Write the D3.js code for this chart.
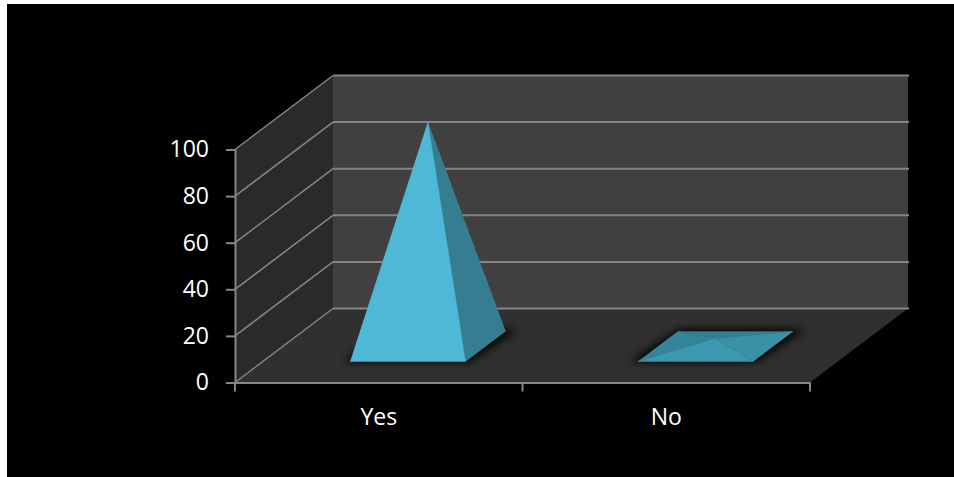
<!DOCTYPE html>
<html>
<head>
<meta charset="utf-8">
<script src="https://d3js.org/d3.v7.min.js"></script>
<style>
  html, body { margin: 0; padding: 0; background: #fff; }
  svg { display: block; }
</style>
</head>
<body>
<script>
var categories = ["Yes", "No"];
var values = [96, 3.5];
var valueTicks = [0, 20, 40, 60, 80, 100];

var width = 954, height = 477;

var svg = d3.select("body").append("svg")
    .attr("width", width)
    .attr("height", height);

svg.append("rect")
    .attr("x", 7).attr("y", 4)
    .attr("width", width - 7).attr("height", height - 4)
    .attr("fill", "#000");

var y = d3.scaleLinear().domain([0, 100]).range([382.5, 149.5]);
var x = d3.scaleBand().domain(categories).range([235, 810])
    .paddingInner(0.6).paddingOuter(0.3);

// depth runs from the front plane (0) to the back wall (1)
var depthX = d3.scaleLinear().domain([0, 1]).range([0, 98]);
var depthY = d3.scaleLinear().domain([0, 1]).range([0, -74]);

function project(px, depth, value) {
    return [px + depthX(depth), y(value) + depthY(depth)];
}
function poly(points) {
    return points.map(function (p) { return p.join(","); }).join(" ");
}

var left = x.range()[0], right = x.range()[1];

var defs = svg.append("defs");
defs.append("filter").attr("id", "shadow")
    .attr("x", "-30%").attr("y", "-60%").attr("width", "160%").attr("height", "220%")
  .append("feGaussianBlur").attr("stdDeviation", 4);

// walls and floor
svg.append("polygon")
    .attr("points", poly([project(left, 0, 0), project(left, 1, 0), project(left, 1, 100), project(left, 0, 100)]))
    .attr("fill", "#2a2a2a");
svg.append("polygon")
    .attr("points", poly([project(left, 1, 0), project(right, 1, 0), project(right, 1, 100), project(left, 1, 100)]))
    .attr("fill", "#404040");
svg.append("polygon")
    .attr("points", poly([project(left, 0, 0), project(right, 0, 0), project(right, 1, 0), project(left, 1, 0)]))
    .attr("fill", "#303030");

// gridlines along side wall and back wall
var grid = svg.append("g").attr("fill", "none").attr("stroke", "#868686");
valueTicks.forEach(function (v) {
    grid.append("line")
        .attr("x1", project(left, 0, v)[0]).attr("y1", project(left, 0, v)[1])
        .attr("x2", project(left, 1, v)[0]).attr("y2", project(left, 1, v)[1])
        .attr("stroke-width", 1.5);
    grid.append("line")
        .attr("x1", project(left, 1, v)[0]).attr("y1", project(left, 1, v)[1])
        .attr("x2", project(right, 1, v)[0] + 1).attr("y2", project(right, 1, v)[1])
        .attr("stroke-width", 2);
});

// pyramids
var baseFront = 0.284, baseBack = 0.69, baseMid = (baseFront + baseBack) / 2;
var nudge = 1.5;
var faces = {
    Yes: { front: "#4fb8d6", right: "#367d91", left: "#4fb8d6", back: "#367d91" },
    No: { front: "#3c97b0", right: "#3b8fa6", left: "#36849a", back: "#347f93" }
};

categories.forEach(function (c, i) {
    var x0 = x(c) + nudge, x1 = x0 + x.bandwidth(), xm = x0 + x.bandwidth() / 2;
    var fl = project(x0, baseFront, 0), fr = project(x1, baseFront, 0),
        br = project(x1, baseBack, 0), bl = project(x0, baseBack, 0),
        apex = project(xm, baseMid, values[i]);
    var col = faces[c];

    // soft contact shadow, a bit wider than the base
    svg.append("polygon")
        .attr("points", poly([project(x0 - 8, baseFront, 0), project(x1 + 4, baseFront, 0),
            project(x1 + 10, baseBack + 0.03, 0), project(x0 - 2, baseBack + 0.03, 0)]))
        .attr("fill", "#000")
        .attr("filter", "url(#shadow)");

    var g = svg.append("g").attr("class", "pyramid");
    [[bl, br, col.back], [bl, fl, col.left], [fr, br, col.right], [fl, fr, col.front]].forEach(function (f) {
        g.append("polygon")
            .attr("points", poly([f[0], f[1], apex]))
            .attr("fill", f[2])
            .attr("stroke", f[2])
            .attr("stroke-width", 0.4);
    });
});

// axes
var yAxis = svg.append("g")
    .attr("transform", "translate(" + left + ",0)")
    .call(d3.axisLeft(y).tickValues(valueTicks).tickSize(9).tickPadding(17));
var xAxis = svg.append("g")
    .attr("transform", "translate(0," + y(0) + ")")
    .call(d3.axisBottom(x).tickSize(0).tickPadding(26));
[yAxis, xAxis].forEach(function (a) {
    a.selectAll(".domain").attr("stroke", "#868686").attr("stroke-width", 2);
    a.selectAll("line").attr("stroke", "#868686").attr("stroke-width", 2);
    a.selectAll("text")
        .attr("fill", "#fff")
        .style("font-family", "'Open Sans', sans-serif")
        .style("font-size", "23px");
});

// category boundaries get the tick marks
var step = x.step();
xAxis.selectAll("line.bound")
    .data(d3.range(categories.length + 1))
    .enter().append("line")
    .attr("class", "bound")
    .attr("x1", function (d) { return left + d * step; })
    .attr("x2", function (d) { return left + d * step; })
    .attr("y1", 0).attr("y2", 9)
    .attr("stroke", "#868686").attr("stroke-width", 2);
</script>
</body>
</html>
